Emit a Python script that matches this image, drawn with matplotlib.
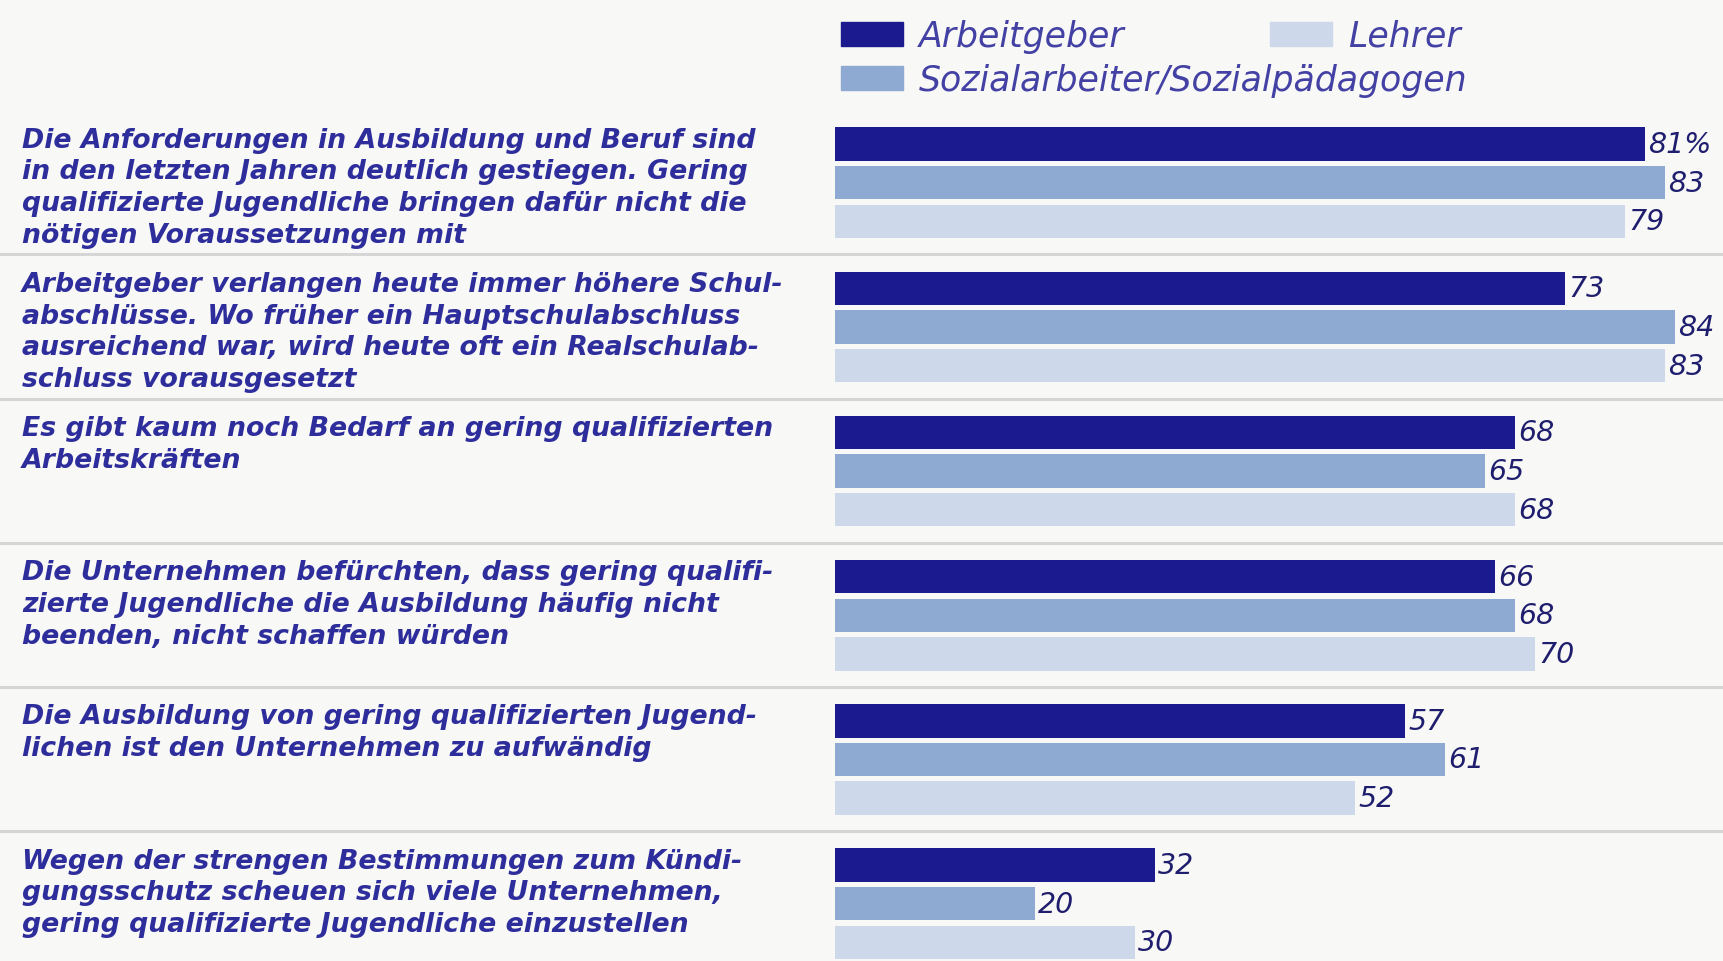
import matplotlib.pyplot as plt
from matplotlib.patches import Patch

plt.rcParams['font.family'] = ['DejaVu Sans']

kategorien = [
    "Die Anforderungen in Ausbildung und Beruf sind\n"
    "in den letzten Jahren deutlich gestiegen. Gering\n"
    "qualifizierte Jugendliche bringen dafür nicht die\n"
    "nötigen Voraussetzungen mit",
    "Arbeitgeber verlangen heute immer höhere Schul-\n"
    "abschlüsse. Wo früher ein Hauptschulabschluss\n"
    "ausreichend war, wird heute oft ein Realschulab-\n"
    "schluss vorausgesetzt",
    "Es gibt kaum noch Bedarf an gering qualifizierten\n"
    "Arbeitskräften",
    "Die Unternehmen befürchten, dass gering qualifi-\n"
    "zierte Jugendliche die Ausbildung häufig nicht\n"
    "beenden, nicht schaffen würden",
    "Die Ausbildung von gering qualifizierten Jugend-\n"
    "lichen ist den Unternehmen zu aufwändig",
    "Wegen der strengen Bestimmungen zum Kündi-\n"
    "gungsschutz scheuen sich viele Unternehmen,\n"
    "gering qualifizierte Jugendliche einzustellen",
]

gruppen = ["Arbeitgeber", "Sozialarbeiter/Sozialpädagogen", "Lehrer"]
arbeitgeber = [81, 73, 68, 66, 57, 32]
sozialarbeiter = [83, 84, 65, 68, 61, 20]
lehrer = [79, 83, 68, 70, 52, 30]
werte = [arbeitgeber, sozialarbeiter, lehrer]

farben = ['#1b1a8e', '#8eaad3', '#cdd8ea']
hintergrund = '#f8f8f6'
textfarbe = '#2e2d9c'
zahlfarbe = '#1f1e6e'
legendfarbe = '#4341a4'

fig = plt.figure(figsize=(17.24, 9.62), dpi=100, facecolor=hintergrund)
ax = fig.add_axes([0, 0, 1, 1])
ax.set_facecolor(hintergrund)

abstand = 0.268   # Abstand der Balken innerhalb einer Gruppe
hoehe = 0.232

for k, reihe in enumerate(werte):
    ys = [i + k * abstand for i in range(len(reihe))]
    ax.barh(ys, reihe, height=hoehe, color=farben[k], edgecolor='none')
    for i, v in enumerate(reihe):
        txt = str(v) + ('%' if (i == 0 and k == 0) else '')
        ax.text(v + 0.3, ys[i], txt, va='center', ha='left',
                fontsize=20.5, style='italic', color=zahlfarbe)

for i, kat in enumerate(kategorien):
    ax.text(-81.3, i - hoehe / 2 - 0.005, kat, va='top', ha='left',
            fontsize=19.3, style='italic', weight='bold', color=textfarbe,
            linespacing=1.29)

for i in range(len(kategorien) - 1):
    ax.axhline(i + 0.765, color='#d6d6d6', lw=2.2)

ax.set_xlim(-83.5, 88.9)
ax.set_ylim(5.666, -1.006)
ax.axis('off')

leg_opts = dict(loc='upper left', frameon=False, handlelength=1.8,
                handleheight=0.7, handletextpad=0.45, labelspacing=0.3,
                borderaxespad=0, prop={'size': 25, 'style': 'italic'},
                labelcolor=legendfarbe)
h = [Patch(color=farben[0]), Patch(color=farben[1])]
leg1 = ax.legend(h, gruppen[:2], bbox_to_anchor=(827 / 1724, 1 - 6 / 962),
                 **leg_opts)
ax.add_artist(leg1)
ax.legend([Patch(color=farben[2])], [gruppen[2]],
          bbox_to_anchor=(1256 / 1724, 1 - 6 / 962), **leg_opts)

fig.savefig('out.png', dpi=100, facecolor=hintergrund)
